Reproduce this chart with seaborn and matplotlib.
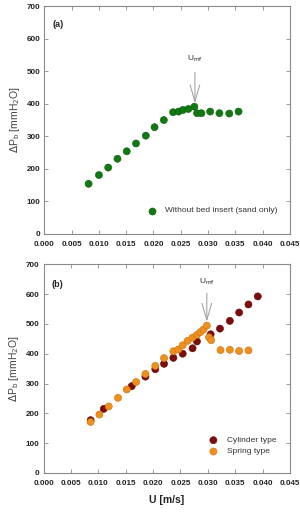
import numpy as np
import pandas as pd
import matplotlib
matplotlib.use("Agg")
import matplotlib.pyplot as plt
import seaborn as sns

# (a) sand only
u_sand = [0.0081, 0.0100, 0.0117, 0.0134, 0.0151, 0.0168, 0.0186, 0.0202, 0.0219, 0.0236,
          0.0246, 0.0254, 0.0264, 0.0275, 0.0280, 0.0288, 0.0304, 0.0321, 0.0339, 0.0356]
dp_sand = [154, 181, 204, 231, 254, 278, 302, 328, 350, 374,
           376, 381, 384, 391, 371, 371, 376, 371, 370, 376]

# (b) with bed inserts
u_cyl = [0.0086, 0.0110, 0.0161, 0.0186, 0.0204, 0.0220, 0.0237, 0.0254, 0.0272, 0.0280,
         0.0305, 0.0322, 0.0340, 0.0357, 0.0374, 0.0391]
dp_cyl = [177, 215, 291, 323, 348, 366, 386, 400, 418, 441,
          465, 484, 510, 538, 565, 592]

u_spr = [0.0086, 0.0102, 0.0119, 0.0136, 0.0152, 0.0169, 0.0186, 0.0204, 0.0220, 0.0237,
         0.0246, 0.0254, 0.0263, 0.0272, 0.0280, 0.0286, 0.0292, 0.0298, 0.0302, 0.0306,
         0.0323, 0.0340, 0.0357, 0.0374]
dp_spr = [171, 196, 223, 252, 280, 305, 332, 359, 385, 408,
          414, 428, 443, 454, 463, 472, 481, 494, 455, 445,
          412, 413, 409, 411]

umf_a = 0.0276
umf_b = 0.0298

xticks = np.arange(0, 0.0451, 0.005)
yticks = np.arange(0, 701, 100)

sns.set_style("ticks")
plt.rcParams['font.family'] = ['Liberation Sans', 'DejaVu Sans']

df_a = pd.DataFrame({'U': u_sand, 'dP': dp_sand, 'kind': 'Without bed insert (sand only)'})
df_b = pd.concat([
    pd.DataFrame({'U': u_cyl, 'dP': dp_cyl, 'kind': 'Cylinder type'}),
    pd.DataFrame({'U': u_spr, 'dP': dp_spr, 'kind': 'Spring type'}),
])

fig = plt.figure(figsize=(3.0, 5.13), dpi=100)
ax1 = fig.add_axes([0.148, 0.544, 0.818, 0.444])
ax2 = fig.add_axes([0.145, 0.078, 0.822, 0.407])

sns.scatterplot(data=df_a, x='U', y='dP', hue='kind', palette=['#127812'],
                s=26, edgecolor='#0d5e0d', linewidth=0.4, ax=ax1, legend=False)
sns.scatterplot(data=df_b, x='U', y='dP', hue='kind', palette=['#7d0c0c', '#f0901c'],
                s=26, edgecolor=['#5e0808'] * len(u_cyl) + ['#c8701a'] * len(u_spr),
                linewidth=0.4, ax=ax2, legend=False)

grey = '#8a8a8a'
for ax in (ax1, ax2):
    ax.set_xlim(0, 0.045)
    ax.set_ylim(0, 700)
    ax.set_xticks(xticks)
    ax.set_yticks(yticks)
    ax.set_xticklabels([f'{v:.3f}' for v in xticks], fontsize=5.8, fontweight='bold')
    ax.set_yticklabels([f'{int(v)}' for v in yticks], fontsize=5.8, fontweight='bold')
    ax.tick_params(direction='in', top=True, right=True, length=3, width=0.6,
                   color=grey, labelcolor='#222222')
    ax.tick_params(axis='x', pad=5)
    ax.tick_params(axis='y', pad=3)
    for sp in ax.spines.values():
        sp.set_visible(True)
        sp.set_color(grey)
        sp.set_linewidth(0.8)
    ax.set_ylabel(r'$\Delta$P$_\mathrm{b}$ [mmH$_2$O]', fontsize=7.5, color='#444444', labelpad=3)
    ax.set_xlabel('')

ax2.set_xlabel('U [m/s]', fontsize=7.5, fontweight='bold', color='#222222', labelpad=6)

ax1.text(0.0015, 645, '(a)', fontsize=6.5, fontweight='bold', va='center')
ax2.text(0.0015, 632, '(b)', fontsize=6.5, fontweight='bold', va='center')

arrow = dict(arrowstyle='->,head_length=1.2,head_width=0.35', color='#9a9a9a', lw=0.7)
ax1.annotate('', xy=(umf_a, 393), xytext=(umf_a, 505), arrowprops=arrow)
ax1.text(umf_a, 537, r'U$_{\mathrm{mf}}$', fontsize=6, ha='center', va='center')
ax2.annotate('', xy=(umf_b, 498), xytext=(umf_b, 612), arrowprops=arrow)
ax2.text(umf_b, 642, r'U$_{\mathrm{mf}}$', fontsize=6, ha='center', va='center')

# legends drawn as marker + text
ax1.scatter([0.0197], [72], s=26, color='#127812', edgecolor='#0d5e0d', linewidth=0.4)
ax1.text(0.0222, 72, 'Without bed insert (sand only)', fontsize=6, va='center', color='#333333')
ax2.scatter([0.0310, 0.0310], [110, 72], s=26, color=['#7d0c0c', '#f0901c'],
            edgecolor=['#5e0808', '#c8701a'], linewidth=0.4)
ax2.text(0.0335, 110, 'Cylinder type', fontsize=6, va='center', color='#333333')
ax2.text(0.0335, 72, 'Spring type', fontsize=6, va='center', color='#333333')

fig.savefig('out.png', dpi=100)
